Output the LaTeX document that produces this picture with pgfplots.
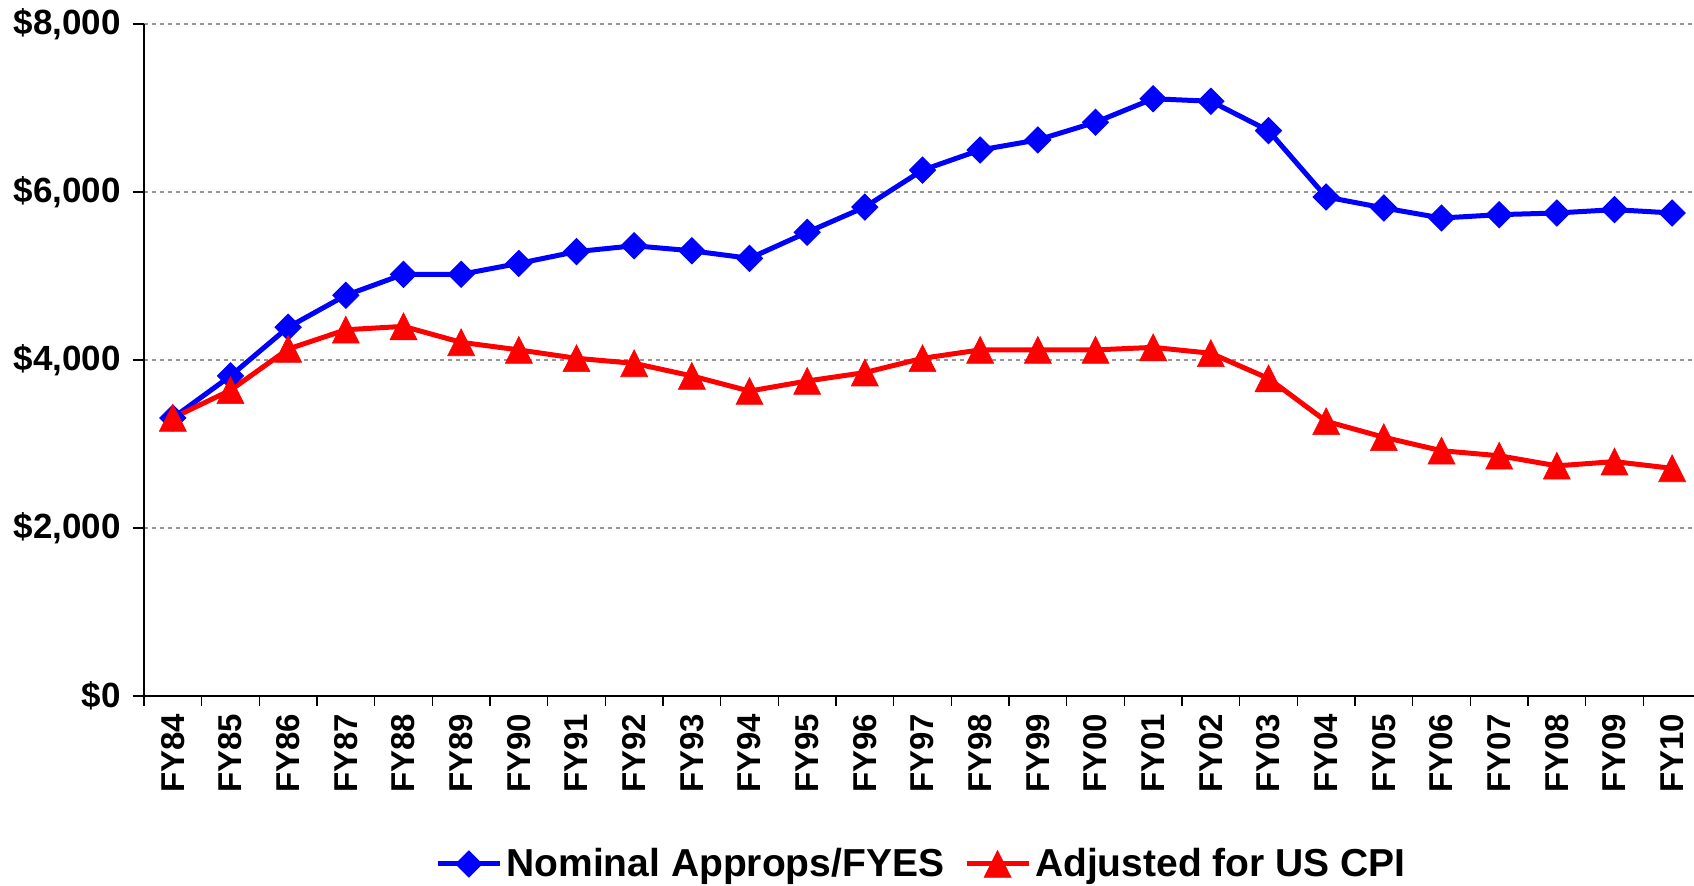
\documentclass[border=0pt]{standalone}
\usepackage{pgfplots}
\usepackage{pgfplotstable}
\pgfplotsset{compat=1.18}
\usepackage{fontspec}
\setmainfont{Liberation Sans}
\definecolor{gridgray}{HTML}{969696}

\pgfplotstableread{
x nom adj
0 3310 3310
1 3810 3640
2 4390 4130
3 4770 4360
4 5020 4400
5 5020 4210
6 5150 4120
7 5290 4020
8 5360 3960
9 5300 3810
10 5210 3630
11 5520 3750
12 5820 3850
13 6260 4020
14 6500 4120
15 6620 4120
16 6830 4120
17 7110 4150
18 7080 4080
19 6730 3780
20 5940 3270
21 5810 3080
22 5690 2920
23 5730 2860
24 5750 2740
25 5790 2790
26 5750 2710
}\datatable

\begin{document}
\begin{tikzpicture}
\begin{axis}[
  name=main,
  scale only axis,
  width=778.5pt, height=336pt,
  xmin=-0.5, xmax=26.5,
  ymin=0, ymax=8000,
  axis x line*=bottom,
  axis y line*=left,
  axis line style={black, line width=0.7pt},
  tick align=outside,
  xtick={0,...,26},
  xticklabels={FY84,FY85,FY86,FY87,FY88,FY89,FY90,FY91,FY92,FY93,FY94,FY95,FY96,FY97,FY98,FY99,FY00,FY01,FY02,FY03,FY04,FY05,FY06,FY07,FY08,FY09,FY10},
  minor xtick={-0.5,0.5,...,26.5},
  major x tick style={draw=none},
  minor tick length=5pt,
  major tick length=5.5pt,
  tick style={black, line width=0.7pt},
  ytick={0,2000,4000,6000,8000},
  yticklabels={{\$0},{\$2,000},{\$4,000},{\$6,000},{\$8,000}},
  scaled y ticks=false,
  ymajorgrids,
  grid style={gridgray, line width=1pt, dash pattern=on 2pt off 2pt},
  /pgf/number format/assume math mode=true,
  xticklabel style={font=\bfseries\fontsize{16.5}{18}\selectfont, rotate=90, anchor=east},
  yticklabel style={font=\bfseries\fontsize{17.5}{19}\selectfont, xshift=-2.5pt},
  legend style={at={(0.5,-0.25)}, anchor=center, draw=none, fill=none,
    font=\bfseries\fontsize{19.5}{22}\selectfont,
    legend columns=-1,
    /tikz/every even column/.append style={column sep=8pt},
    inner sep=0pt},
  legend image code/.code={\draw[mark repeat=2,mark phase=2] plot coordinates {(0pt,0pt)(15.5pt,0pt)(31pt,0pt)};},
  clip=false,
]
\addplot[blue, line width=2.5pt, mark=square*, mark size=4.6pt,
  mark options={rotate=45, solid, fill=blue, draw=blue, line width=0.5pt}]
  table[x=x, y=nom] {\datatable};
\addlegendentry{Nominal Approps/FYES}
\addplot[red, line width=2.5pt, mark=triangle*, mark size=7.8pt,
  mark options={yshift=-2.2pt, yscale=1.15, solid, fill=red, draw=red, line width=0.3pt}]
  table[x=x, y=adj] {\datatable};
\addlegendentry{Adjusted for US CPI}
\end{axis}
\pgfresetboundingbox
\useasboundingbox ([shift={(-72pt,-95pt)}]main.south west) rectangle ([shift={(775pt,12pt)}]main.north west);
\end{tikzpicture}
\end{document}
